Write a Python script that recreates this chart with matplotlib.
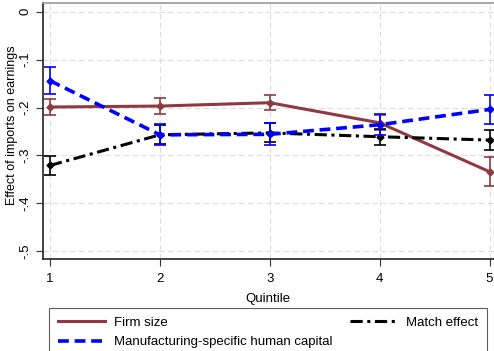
import matplotlib
matplotlib.use("Agg")
import matplotlib.pyplot as plt
from matplotlib.lines import Line2D

quintiles = [1, 2, 3, 4, 5]
firm_size = [-0.199, -0.197, -0.190, -0.232, -0.334]
firm_size_ci = [0.016, 0.016, 0.016, 0.016, 0.030]
manuf_hc = [-0.144, -0.257, -0.256, -0.236, -0.204]
manuf_hc_ci = [0.028, 0.022, 0.023, 0.022, 0.031]
match_eff = [-0.321, -0.257, -0.253, -0.261, -0.268]
match_eff_ci = [0.019, 0.020, 0.020, 0.017, 0.021]
yticks = [0, -0.1, -0.2, -0.3, -0.4, -0.5]
ytick_labels = ["0", "-.1", "-.2", "-.3", "-.4", "-.5"]
series_labels = ['Firm size', 'Manufacturing-specific human capital', 'Match effect']

plt.rcParams['font.family'] = ['Liberation Sans', 'DejaVu Sans']

W, H = 494, 351
fig = plt.figure(figsize=(W/100, H/100), dpi=100)
fig.patch.set_facecolor('white')
ax = fig.add_axes([42.5/W, 1 - 259/H, 1 - 42.5/W, (259 - 3.3)/H])

maroon = '#8f3a40'
blue = '#0000ff'
styles = [
    dict(color=maroon, lw=2.2, ls='-'),
    dict(color=blue, lw=2.6, ls=(0, (3, 1.6))),
    dict(color='black', lw=2.2, ls=(0, (4, 1.5, 1, 1.5))),
]
data = [(firm_size, firm_size_ci), (manuf_hc, manuf_hc_ci), (match_eff, match_eff_ci)]
zs = [3, 4, 3]
for (vals, ci), st, z in zip(data, styles, zs):
    ax.errorbar(quintiles, vals, yerr=ci, marker='D', ms=3.5, capsize=4,
                elinewidth=1.2, capthick=1.2, zorder=z, **st)

ax.set_xlim(1 - 7.5/110, 5 + 4.5/110)
ax.set_ylim(-(259 - 11.7)/479, 8.4/479)
ax.set_xticks(quintiles)
ax.set_yticks(yticks)
ax.set_yticklabels(ytick_labels, rotation=90, va='center')
ax.tick_params(axis='both', labelsize=9.5, length=5, width=0.8, colors='#333333',
               labelcolor='black', pad=3)
ax.tick_params(axis='x', pad=5)
ax.grid(True, color='#dddddd', ls=(0, (5, 3)), lw=0.8)
ax.set_axisbelow(True)
for s in ['left', 'bottom']:
    ax.spines[s].set_color('#222222')
    ax.spines[s].set_linewidth(1.2)
ax.spines['top'].set_color('#999999')
ax.spines['top'].set_linewidth(1.2)
ax.spines['right'].set_visible(False)

ax.set_xlabel('Quintile', fontsize=9.5, labelpad=6)
ax.set_ylabel('Effect of imports on earnings', fontsize=9)
ax.yaxis.set_label_coords(-(42.5 - 18.5) / (W - 42.5), (259 - 125) / (259 - 3.3))

handles = [Line2D([], [], **st) for st in styles]
leg = fig.legend(handles, series_labels, ncol=2, mode='expand',
                 bbox_to_anchor=(49/W, 0, (487-49)/W, 1 - 308/H),
                 loc='upper left', fontsize=9.5, handlelength=3.6,
                 frameon=True, fancybox=False, borderaxespad=0,
                 borderpad=0.65, labelspacing=0.55, handletextpad=0.7)
leg.get_frame().set_edgecolor('#333333')
leg.get_frame().set_linewidth(0.8)

fig.savefig('out.png', dpi=100, facecolor='white')
